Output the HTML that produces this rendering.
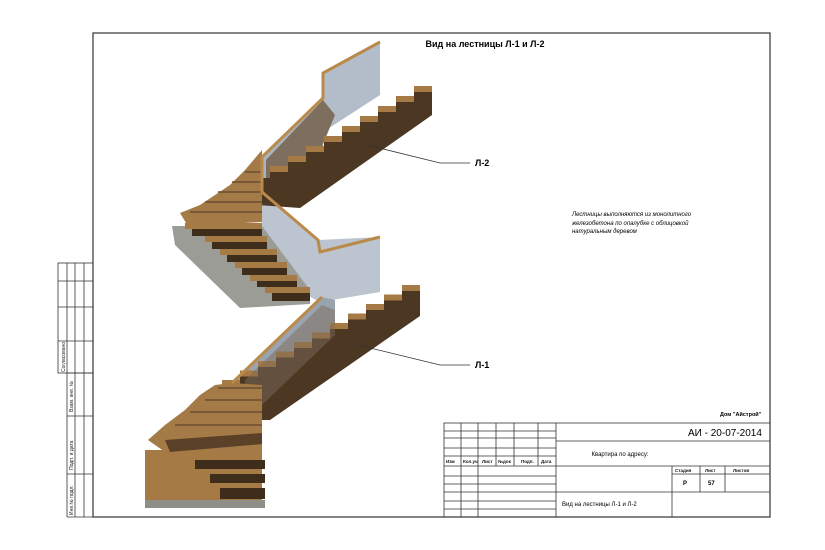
<!DOCTYPE html>
<html><head><meta charset="utf-8"><style>
html,body{margin:0;padding:0;background:#fff;}
svg{display:block;font-family:"Liberation Sans",sans-serif;}
</style></head><body>
<svg width="825" height="550" viewBox="0 0 825 550" xmlns="http://www.w3.org/2000/svg">
<rect width="825" height="550" fill="#fff"/>
<rect x="93" y="33" width="677" height="484" fill="none" stroke="#333" stroke-width="1.2"/>
<text x="485" y="47" font-size="9" font-weight="bold" text-anchor="middle">Вид на лестницы Л-1 и Л-2</text>

<!-- ===== UPPER STAIR L-2 ===== -->
<polygon points="323,73 380,42 380,95 323,132" fill="#b3bdc9"/>
<polygon points="262,157 323,98 323,150 262,205" fill="#aab4c0"/>
<polygon points="262,192 318,240 380,237 380,292 320,302 262,272" fill="#bcc5cf"/>
<polygon points="266,160 323,100 335,115 300,200 266,200" fill="#7e6e5e"/>
<path d="M432,88 H414 V98 H396 V108 H378 V118 H360 V128 H342 V138 H324 V148 H306 V158 H288 V168 H270 V178 H258 V205 L300,208 L432,115 Z" fill="#4b3722"/>
<path d="M414,89 H432 M396,99 H414 M378,109 H396 M360,119 H378 M342,129 H360 M324,139 H342 M306,149 H324 M288,159 H306 M270,169 H288" stroke="#a67a45" stroke-width="6"/>
<!-- winders -->
<polygon points="262,150 262,222 188,226 180,213 200,205 215,195 230,185 245,170" fill="#a47a47"/>
<path d="M245,172 H262 M232,182 H262 M218,192 H262 M205,202 H262 M190,212 H262" stroke="#6a4d30" stroke-width="1.5"/>
<!-- concrete -->
<polygon points="172,226 262,226 310,290 310,304 240,308 175,245" fill="#9c9c96"/>
<g fill="#a67a45">
<rect x="185" y="223" width="77" height="6"/><rect x="205" y="236" width="62" height="6"/>
<rect x="220" y="249" width="57" height="6"/><rect x="235" y="262" width="52" height="6"/>
<rect x="250" y="275" width="47" height="6"/><rect x="265" y="287" width="45" height="6"/>
</g>
<g fill="#3f2d1b">
<rect x="192" y="229" width="70" height="7"/><rect x="212" y="242" width="55" height="7"/>
<rect x="227" y="255" width="50" height="7"/><rect x="242" y="268" width="45" height="7"/>
<rect x="257" y="281" width="40" height="6"/><rect x="272" y="293" width="38" height="8"/>
</g>
<polyline points="380,42 323,73 323,98 262,157 262,192 318,240 320,252 380,237" fill="none" stroke="#b98a4a" stroke-width="3"/>

<!-- ===== LOWER STAIR L-1 ===== -->
<polygon points="232,383 322,297 335,300 335,335 262,405 232,432" fill="#9aa4b0"/>
<path d="M420,287 H402 V296.5 H384 V306 H366 V315.5 H348 V325 H330 V334.5 H312 V344 H294 V353.5 H276 V363 H258 V372.5 H240 V382 H222 V391.5 H210 V420 L270,420 L420,316 Z" fill="#4b3722"/>
<path d="M402,288 H420 M384,297.5 H402 M366,307 H384 M348,316.5 H366 M330,326 H348 M312,335.5 H330 M294,345 H312 M276,354.5 H294 M258,364 H276 M240,373.5 H258 M222,383 H240" stroke="#a67a45" stroke-width="6"/>
<polygon points="245,380 322,305 335,310 335,335 262,405 245,410" fill="#7b6a5a" opacity="0.5"/>
<polygon points="262,385 262,450 165,452 148,440 165,425 185,410 200,395 215,385 232,383" fill="#a47a47"/>
<path d="M218,388 H262 M205,400 H262 M190,412 H262 M175,425 H262" stroke="#6a4d30" stroke-width="1.5"/>
<polygon points="145,450 262,450 262,508 145,508" fill="#a67a45"/>
<polygon points="165,440 262,433 262,444 170,452" fill="#5a4128"/>
<rect x="195" y="460" width="70" height="9" fill="#3f2d1b"/>
<rect x="210" y="474" width="55" height="9" fill="#3f2d1b"/>
<rect x="220" y="488" width="45" height="11" fill="#3f2d1b"/>
<rect x="145" y="500" width="120" height="8" fill="#8f8f8a"/>
<polyline points="232,383 322,297" fill="none" stroke="#b98a4a" stroke-width="3"/>

<polyline points="367,145 440,163 470,163" fill="none" stroke="#333" stroke-width="0.8"/>
<text x="475" y="166" font-size="9" font-weight="bold">Л-2</text>
<polyline points="358,345 440,365 470,365" fill="none" stroke="#333" stroke-width="0.8"/>
<text x="475" y="368" font-size="9" font-weight="bold">Л-1</text>

<g font-size="6" font-style="italic">
<text x="572" y="216">Лестницы выполняются из монолитного</text>
<text x="572" y="225">железобетона по опалубке с облицовкой</text>
<text x="572" y="233">натуральным деревом</text>
</g>

<g stroke="#333" stroke-width="0.8" fill="none">
<rect x="58" y="263" width="35" height="110"/>
<line x1="67" y1="263" x2="67" y2="517"/><line x1="75" y1="263" x2="75" y2="517"/><line x1="84" y1="263" x2="84" y2="517"/>
<line x1="58" y1="281" x2="93" y2="281"/><line x1="58" y1="307" x2="93" y2="307"/><line x1="58" y1="341" x2="93" y2="341"/>
<line x1="67" y1="373" x2="93" y2="373"/><line x1="67" y1="416" x2="93" y2="416"/><line x1="67" y1="474" x2="93" y2="474"/>
<line x1="67" y1="517" x2="93" y2="517"/>
</g>
<g font-size="5" fill="#222">
<text transform="translate(65,372) rotate(-90)">Согласовано</text>
<text transform="translate(73,412) rotate(-90)">Взам. инв. №</text>
<text transform="translate(73,470) rotate(-90)">Подп. и дата</text>
<text transform="translate(73,515) rotate(-90)">Инв.№ подл.</text>
</g>

<g stroke="#333" stroke-width="0.8" fill="none">
<rect x="444" y="423" width="326" height="94"/>
<line x1="461" y1="423" x2="461" y2="517"/>
<line x1="496" y1="423" x2="496" y2="466"/><line x1="514" y1="423" x2="514" y2="466"/>
<line x1="478" y1="423" x2="478" y2="517"/><line x1="538" y1="423" x2="538" y2="466"/>
<line x1="556" y1="423" x2="556" y2="517"/>
<line x1="444" y1="431" x2="556" y2="431"/><line x1="444" y1="438" x2="556" y2="438"/>
<line x1="444" y1="448" x2="556" y2="448"/><line x1="444" y1="456" x2="556" y2="456"/>
<line x1="444" y1="466" x2="556" y2="466"/><line x1="444" y1="476" x2="556" y2="476"/>
<line x1="444" y1="484" x2="556" y2="484"/><line x1="444" y1="492" x2="556" y2="492"/>
<line x1="444" y1="501" x2="556" y2="501"/><line x1="444" y1="509" x2="556" y2="509"/>
<line x1="556" y1="441" x2="770" y2="441"/><line x1="556" y1="466" x2="770" y2="466"/>
<line x1="556" y1="492" x2="770" y2="492"/>
<line x1="672" y1="466" x2="672" y2="517"/><line x1="700" y1="466" x2="700" y2="492"/>
<line x1="725" y1="466" x2="725" y2="492"/><line x1="672" y1="474" x2="770" y2="474"/>
</g>
<g font-size="4.5" font-weight="bold" fill="#111">
<text x="446" y="463">Изм</text><text x="463" y="463">Кол.уч</text><text x="482" y="463">Лист</text>
<text x="498" y="463">№док</text><text x="521" y="463">Подп.</text><text x="541" y="463">Дата</text>
<text x="675" y="472">Стадия</text><text x="705" y="472">Лист</text><text x="733" y="472">Листов</text>
</g>
<text x="720" y="416" font-size="5.5" font-weight="bold">Дом "Айстрой"</text>
<text x="688" y="436" font-size="10">АИ - 20-07-2014</text>
<text x="620" y="456" font-size="6" text-anchor="middle">Квартира по адресу:</text>
<text x="683" y="485" font-size="6" font-weight="bold">Р</text>
<text x="708" y="485" font-size="6" font-weight="bold">57</text>
<text x="562" y="506" font-size="6">Вид на лестницы Л-1 и Л-2</text>
</svg>
</body></html>
